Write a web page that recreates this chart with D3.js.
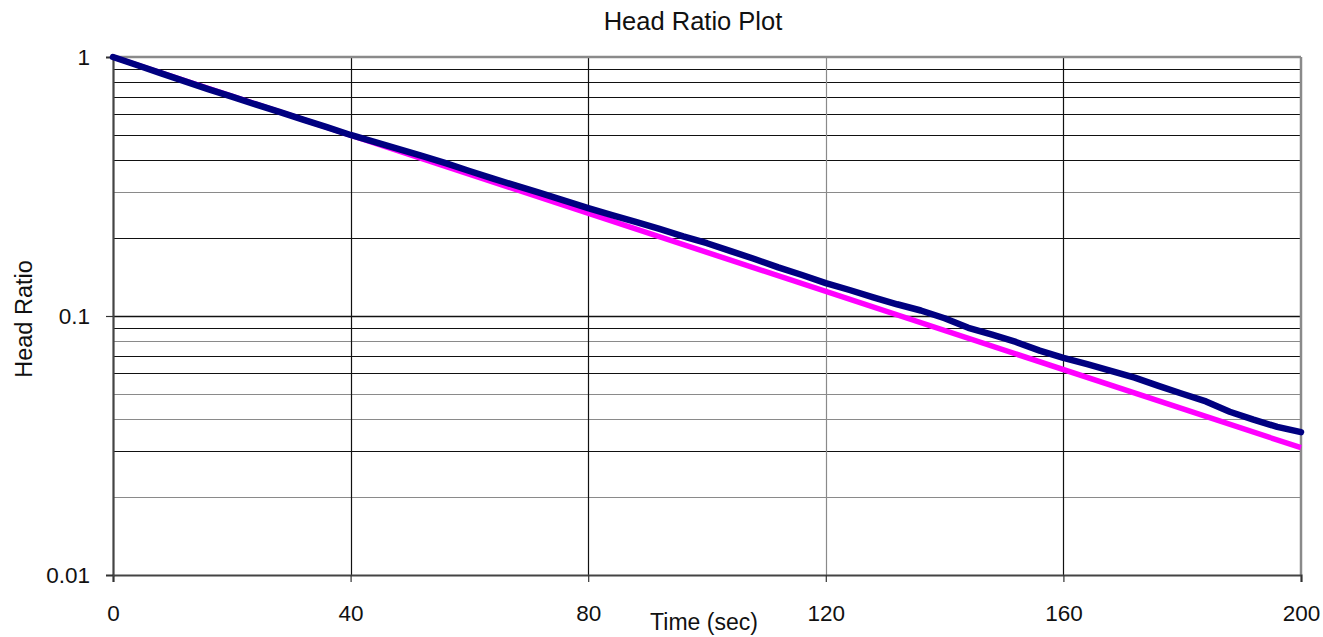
<!DOCTYPE html>
<html>
<head>
<meta charset="utf-8">
<script src="https://cdn.jsdelivr.net/npm/d3@7"></script>
<style>
  html, body { margin: 0; padding: 0; background: #fff; }
  svg { display: block; font-family: "Liberation Sans", Arial, sans-serif; }
</style>
</head>
<body>
<svg id="chart" width="1323" height="637"></svg>
<script>
// Measured head ratio over time (sec)
const timeSec = [0, 4, 8, 12, 16, 20, 24, 28, 32, 36, 40, 44, 48, 52, 56, 60, 64, 68, 72, 76,
  80, 84, 88, 92, 96, 100, 104, 108, 112, 116, 120, 124, 128, 132, 136, 140, 144, 148, 152, 156,
  160, 164, 168, 172, 176, 180, 184, 188, 192, 196, 200];
const headRatio = [1.000, 0.931, 0.867, 0.807, 0.752, 0.703, 0.656, 0.614, 0.573, 0.536, 0.500,
  0.470, 0.442, 0.415, 0.389, 0.363, 0.339, 0.318, 0.298, 0.279, 0.261, 0.245, 0.231, 0.217,
  0.203, 0.191, 0.178, 0.166, 0.154, 0.144, 0.134, 0.126, 0.118, 0.111, 0.105, 0.098, 0.090,
  0.0847, 0.0794, 0.0735, 0.0689, 0.0652, 0.0614, 0.0578, 0.0537, 0.0501, 0.0468, 0.0427,
  0.0398, 0.0373, 0.0356];

// Fitted straight-line (semi-log) head ratio
const fitTime = [0, 200];
const fitRatio = [1.0, 0.031];

// Axis ticks
const xTicks = [0, 40, 80, 120, 160, 200];
const yTicks = [0.01, 0.1, 1];
const yTickLabels = ["0.01", "0.1", "1"];
const yGridValues = [0.02, 0.03, 0.04, 0.05, 0.06, 0.07, 0.08, 0.09, 0.1,
  0.2, 0.3, 0.4, 0.5, 0.6, 0.7, 0.8, 0.9];

// Gridlines that render dark vs. grey
const darkRows = new Set([0.03, 0.06, 0.07, 0.09, 0.1, 0.2, 0.4, 0.5, 0.6, 0.7, 0.8, 0.9]);
const darkCols = new Set([40, 80, 160]);

const W = 1323, H = 637;
const margin = { top: 57, right: 22, bottom: 62, left: 113 };

const svg = d3.select("#chart");

const x = d3.scaleLinear().domain([0, 200]).range([margin.left, W - margin.right]);
const y = d3.scaleLog().domain([0.01, 1]).range([H - margin.bottom, margin.top]);

// Horizontal gridlines
svg.append("g")
  .selectAll("line")
  .data(yGridValues)
  .join("line")
  .attr("x1", x(0)).attr("x2", x(200))
  .attr("y1", d => Math.round(y(d)) + 0.5).attr("y2", d => Math.round(y(d)) + 0.5)
  .attr("stroke", d => darkRows.has(d) ? "#111" : "#8a8a8a")
  .attr("stroke-width", d => d === 0.1 ? 1.6 : 1.2);

// Vertical gridlines
svg.append("g")
  .selectAll("line")
  .data(xTicks.filter(d => d > 0 && d < 200))
  .join("line")
  .attr("x1", d => Math.round(x(d)) + 0.5).attr("x2", d => Math.round(x(d)) + 0.5)
  .attr("y1", y(1)).attr("y2", y(0.01))
  .attr("stroke", d => darkCols.has(d) ? "#111" : "#8a8a8a")
  .attr("stroke-width", 1.2);

// Plot frame: top and right in grey
svg.append("line")
  .attr("x1", x(0)).attr("x2", x(200)).attr("y1", y(1)).attr("y2", y(1))
  .attr("stroke", "#8a8a8a").attr("stroke-width", 2.5);
svg.append("line")
  .attr("x1", x(200)).attr("x2", x(200)).attr("y1", y(1)).attr("y2", y(0.01))
  .attr("stroke", "#8a8a8a").attr("stroke-width", 2.5);

// Axes
const xAxis = d3.axisBottom(x).tickValues(xTicks).tickSize(7).tickPadding(23)
  .tickFormat(d3.format("d"));
const yAxis = d3.axisLeft(y).tickValues(yTicks).tickSize(7).tickPadding(16)
  .tickFormat((d, i) => yTickLabels[i]);

const gx = svg.append("g").attr("transform", `translate(0,${y(0.01)})`).call(xAxis);
const gy = svg.append("g").attr("transform", `translate(${x(0)},0)`).call(yAxis);

[gx, gy].forEach(g => {
  g.select(".domain").attr("stroke", "#444").attr("stroke-width", 2.2);
  g.selectAll(".tick line").attr("stroke", "#333").attr("stroke-width", 1.2);
  g.selectAll(".tick text")
    .attr("fill", "#111")
    .style("font-family", "'Liberation Sans', Arial, sans-serif")
    .style("font-size", "22.5px");
});
gx.selectAll(".tick text").attr("dy", "0.71em");

// Series lines
const line = d3.line()
  .x(d => x(d[0]))
  .y(d => y(d[1]));

svg.append("path")
  .datum(fitTime.map((t, i) => [t, fitRatio[i]]))
  .attr("d", line)
  .attr("fill", "none")
  .attr("stroke", "#ff00ff")
  .attr("stroke-width", 5.5);

svg.append("path")
  .datum(timeSec.map((t, i) => [t, headRatio[i]]))
  .attr("d", line)
  .attr("fill", "none")
  .attr("stroke", "#000080")
  .attr("stroke-width", 6.5)
  .attr("stroke-linejoin", "round")
  .attr("stroke-linecap", "round");

// Titles
svg.append("text")
  .attr("x", 693).attr("y", 30)
  .attr("text-anchor", "middle")
  .style("font-size", "25.5px")
  .attr("fill", "#111")
  .text("Head Ratio Plot");

svg.append("text")
  .attr("x", (x(0) + x(200)) / 2 - 3).attr("y", 630)
  .attr("text-anchor", "middle")
  .style("font-size", "23px")
  .attr("fill", "#111")
  .text("Time (sec)");

svg.append("text")
  .attr("transform", `translate(32,${(y(1) + y(0.01)) / 2 + 3}) rotate(-90)`)
  .attr("text-anchor", "middle")
  .style("font-size", "23.5px")
  .attr("fill", "#111")
  .text("Head Ratio");
</script>
</body>
</html>
